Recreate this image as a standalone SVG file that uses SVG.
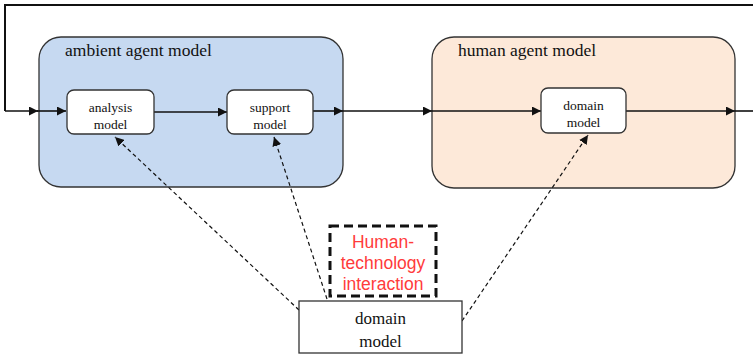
<svg xmlns="http://www.w3.org/2000/svg" width="753" height="356" viewBox="0 0 753 356">
<style>
.t{font-family:"Liberation Serif","Times New Roman",serif;fill:#111}
.title{font-size:17.5px}
.small{font-size:13.5px;text-anchor:middle}
.mid{font-size:17px;text-anchor:middle}
.inner{fill:#fff;stroke:#333;stroke-width:1.3}
.solid{fill:none;stroke:#111;stroke-width:1.6}
.dash{fill:none;stroke:#111;stroke-width:1.2;stroke-dasharray:4 3}
.red{font-family:"Liberation Sans",Arial,sans-serif;font-size:17.5px;fill:#ff3b3b;text-anchor:middle}
</style>
<defs>
<marker id="ah" viewBox="0 0 10 10" refX="10" refY="5" markerWidth="9" markerHeight="9" markerUnits="userSpaceOnUse" orient="auto">
<path d="M0,0 L10,5 L0,10 z" fill="#111"/>
</marker>
</defs>
<rect width="753" height="356" fill="#fff"/>
<g id="ambient">
<rect x="39" y="37" width="304" height="150" rx="22" fill="#c6d9f1" stroke="#333" stroke-width="1.3"/>
<text class="t title" x="65" y="56">ambient agent model</text>
</g>
<g id="human">
<rect x="432" y="37" width="303" height="151" rx="22" fill="#fde9d9" stroke="#333" stroke-width="1.3"/>
<text class="t title" x="458" y="56">human agent model</text>
</g>
<g id="connectors">
<polyline class="solid" points="753,5 5,5 5,111" style="stroke-width:2"/>
<line class="solid" x1="5" y1="111" x2="38" y2="111" marker-end="url(#ah)"/>
<line class="solid" x1="37" y1="111" x2="66" y2="111" marker-end="url(#ah)"/>
<line class="solid" x1="154" y1="112" x2="227" y2="112" marker-end="url(#ah)"/>
<line class="solid" x1="313" y1="111" x2="343" y2="111" marker-end="url(#ah)"/>
<line class="solid" x1="343" y1="111" x2="432" y2="111" marker-end="url(#ah)"/>
<line class="solid" x1="432" y1="111" x2="541" y2="111" marker-end="url(#ah)"/>
<line class="solid" x1="626" y1="111" x2="735" y2="111" marker-end="url(#ah)"/>
<line class="solid" x1="735" y1="111" x2="753" y2="111"/>
<line class="dash" x1="299" y1="310" x2="115" y2="137" marker-end="url(#ah)"/>
<line class="dash" x1="327" y1="299" x2="274" y2="137" marker-end="url(#ah)"/>
<line class="dash" x1="462" y1="321" x2="588" y2="135" marker-end="url(#ah)"/>
</g>
<g id="analysis">
<rect class="inner" x="67" y="90" width="87" height="44" rx="7"/>
<text class="t small" x="110.5" y="112">analysis</text>
<text class="t small" x="110.5" y="129">model</text>
</g>
<g id="support">
<rect class="inner" x="227" y="90" width="86" height="44" rx="7"/>
<text class="t small" x="270" y="112">support</text>
<text class="t small" x="270" y="129">model</text>
</g>
<g id="domain-inner">
<rect class="inner" x="541" y="88" width="85" height="45" rx="7"/>
<text class="t small" x="583.5" y="110">domain</text>
<text class="t small" x="583.5" y="127">model</text>
</g>
<g id="hti">
<rect x="330" y="226" width="106" height="70" fill="#fff" stroke="#111" stroke-width="3" stroke-dasharray="9 5"/>
<text class="red" x="383" y="248">Human-</text>
<text class="red" x="383" y="269">technology</text>
<text class="red" x="383" y="290">interaction</text>
</g>
<g id="domain">
<rect x="299" y="301" width="163" height="52" fill="#fff" stroke="#333" stroke-width="1.3"/>
<text class="t mid" x="380.5" y="324">domain</text>
<text class="t mid" x="380.5" y="347">model</text>
</g>
</svg>
